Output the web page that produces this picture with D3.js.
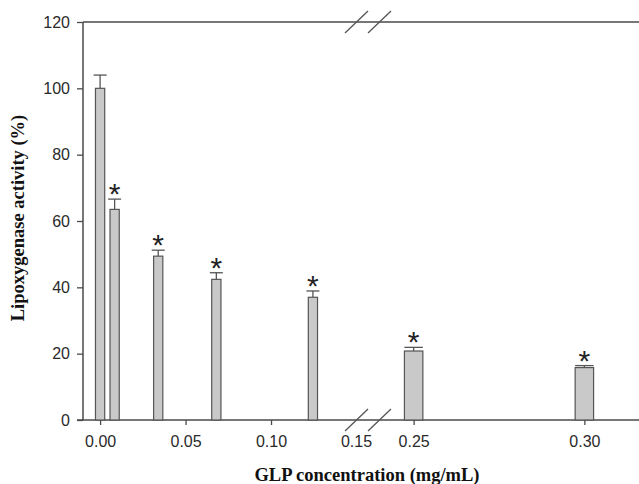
<!DOCTYPE html>
<html>
<head>
<meta charset="utf-8">
<script src="https://cdn.jsdelivr.net/npm/d3@7"></script>
<style>
  body { margin: 0; background: #fff; }
  .axis-title { font-family: "Liberation Serif", "Times New Roman", serif; font-weight: bold; font-size: 18.5px; fill: #111; }
</style>
</head>
<body>
<div id="chart"></div>
<script>
// ============================================
// DATA
// ============================================

const concentrations = [0, 0.0085, 0.034, 0.068, 0.1245, 0.25, 0.30];
const activity = [100, 63.5, 49.4, 42.4, 37.0, 20.8, 15.8];
const errors = [4.0, 3.1, 1.8, 2.0, 1.9, 1.1, 0.6];
const significant = [false, true, true, true, true, true, true];

const yTicks = [0, 20, 40, 60, 80, 100, 120];
const xTicksLeft = [0, 0.05, 0.10];
const xTicksRight = [0.25, 0.30];
const breakLabel = 0.15;

// ============================================
// DIMENSIONS & SCALES
// ============================================

const width = 639, height = 484;
const plotTop = 22, plotBottom = 420, plotLeft = 83;
const breakStart = 356.5, breakEnd = 379.5;
const barWidth = 0.0054;   // in concentration units
const tickFont = '"Liberation Sans", Arial, sans-serif';

// broken x axis: two linear pieces
const xLeft = d3.scaleLinear().domain([-0.01, 0.15]).range([plotLeft, breakStart]);
const xRight = d3.scaleLinear().domain([0.24, 0.316]).range([breakEnd, width]);
const xOf = v => v <= 0.15 ? xLeft : xRight;

const y = d3.scaleLinear().domain([0, 120]).range([plotBottom, plotTop]);

const svg = d3.select('#chart')
  .append('svg')
  .attr('width', width)
  .attr('height', height);

// ============================================
// AXES
// ============================================

const axisColor = '#4a4a4a';

const yAxis = svg.append('g')
  .attr('transform', `translate(${plotLeft},0)`)
  .call(d3.axisLeft(y).tickValues(yTicks).tickSize(6).tickPadding(7).tickFormat(d3.format('d')));

const xAxisL = svg.append('g')
  .attr('transform', `translate(0,${plotBottom})`)
  .call(d3.axisBottom(xLeft).tickValues(xTicksLeft).tickSize(5).tickPadding(11).tickFormat(d3.format('.2f')));

const xAxisR = svg.append('g')
  .attr('transform', `translate(0,${plotBottom})`)
  .call(d3.axisBottom(xRight).tickValues(xTicksRight).tickSize(5).tickPadding(11).tickFormat(d3.format('.2f')));

[yAxis, xAxisL, xAxisR].forEach(g => {
  g.attr('font-family', tickFont).attr('font-size', 16);
  g.select('.domain').remove();
  g.selectAll('.tick line').attr('stroke', axisColor).attr('stroke-width', 1.3);
  g.selectAll('.tick text').attr('fill', '#2a2a2a');
});

// label at the break, no tick
svg.append('text')
  .attr('x', xLeft(breakLabel))
  .attr('y', plotBottom + 16)
  .attr('dy', '0.71em')
  .attr('text-anchor', 'middle')
  .attr('font-family', tickFont)
  .attr('font-size', 16)
  .attr('fill', '#2a2a2a')
  .text(d3.format('.2f')(breakLabel));

// frame lines: left, bottom, top
svg.append('line')
  .attr('x1', plotLeft).attr('x2', plotLeft).attr('y1', plotTop).attr('y2', plotBottom)
  .attr('stroke', axisColor).attr('stroke-width', 1.5);
svg.append('line')
  .attr('x1', plotLeft - 6).attr('x2', width).attr('y1', plotBottom).attr('y2', plotBottom)
  .attr('stroke', axisColor).attr('stroke-width', 1.5);
svg.append('line')
  .attr('x1', plotLeft).attr('x2', width).attr('y1', plotTop).attr('y2', plotTop)
  .attr('stroke', axisColor).attr('stroke-width', 1.5);

// break marks (top and bottom)
[plotTop, plotBottom].forEach(yy => {
  [breakStart, breakEnd].forEach(xx => {
    svg.append('line')
      .attr('x1', xx - 11.5).attr('y1', yy + 11)
      .attr('x2', xx + 11.5).attr('y2', yy - 11)
      .attr('stroke', '#555').attr('stroke-width', 1.3);
  });
});

// ============================================
// BARS
// ============================================

const data = concentrations.map((c, i) => ({
  c, v: activity[i], e: errors[i], sig: significant[i]
}));

const bx = d => xOf(d.c)(d.c - barWidth / 2);
const bw = d => xOf(d.c)(d.c + barWidth / 2) - bx(d);
const cx = d => xOf(d.c)(d.c);

// error bars (behind bars)
svg.selectAll('.err')
  .data(data)
  .join('line')
  .attr('x1', cx).attr('x2', cx)
  .attr('y1', d => y(d.v)).attr('y2', d => y(d.v + d.e))
  .attr('stroke', '#555').attr('stroke-width', 1.3);

svg.selectAll('.cap')
  .data(data)
  .join('line')
  .attr('x1', d => cx(d) - Math.max(bw(d), 13) / 2)
  .attr('x2', d => cx(d) + Math.max(bw(d), 13) / 2)
  .attr('y1', d => y(d.v + d.e)).attr('y2', d => y(d.v + d.e))
  .attr('stroke', '#555').attr('stroke-width', 1.3);

svg.selectAll('.bar')
  .data(data)
  .join('rect')
  .attr('class', 'bar')
  .attr('x', bx)
  .attr('width', bw)
  .attr('y', d => y(d.v))
  .attr('height', d => y(0) - y(d.v))
  .attr('fill', '#c9c9c9')
  .attr('stroke', '#555')
  .attr('stroke-width', 1.2);

// significance markers
svg.selectAll('.star')
  .data(data.filter(d => d.sig))
  .join('text')
  .attr('class', 'star')
  .attr('x', cx)
  .attr('y', d => y(d.v + d.e) + 5)
  .attr('text-anchor', 'middle')
  .attr('font-family', tickFont)
  .attr('font-size', 30)
  .attr('fill', '#222')
  .text('*');

// ============================================
// AXIS TITLES
// ============================================

svg.append('text')
  .attr('class', 'axis-title')
  .attr('x', 367)
  .attr('y', 481)
  .attr('text-anchor', 'middle')
  .text('GLP concentration (mg/mL)');

svg.append('text')
  .attr('class', 'axis-title')
  .attr('transform', 'rotate(-90)')
  .attr('x', -218)
  .attr('y', 24)
  .attr('text-anchor', 'middle')
  .text('Lipoxygenase activity (%)');
</script>
</body>
</html>
